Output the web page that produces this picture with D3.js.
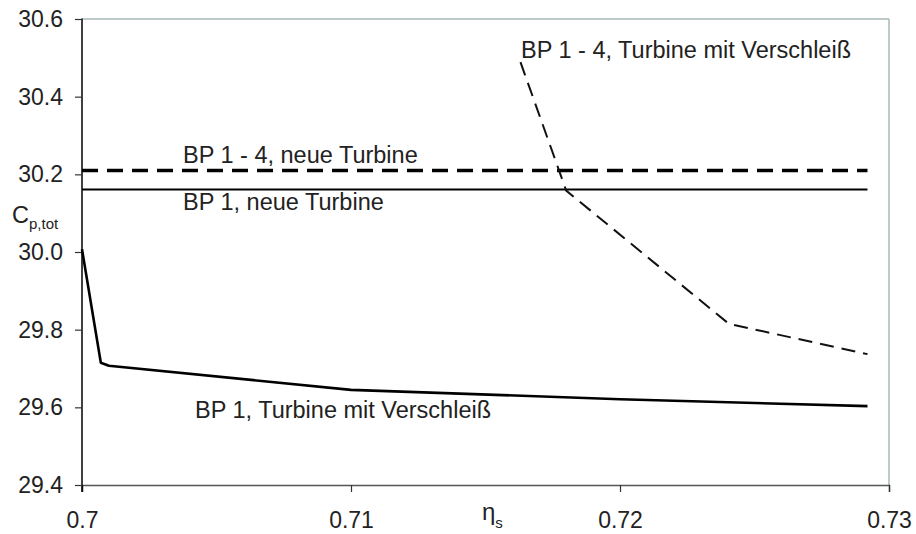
<!DOCTYPE html>
<html>
<head>
<meta charset="utf-8">
<script src="https://cdn.jsdelivr.net/npm/d3@7"></script>
<style>
  body { margin: 0; background: #fff; }
  svg text { font-family: "Liberation Sans", Arial, sans-serif; fill: #222; }
</style>
</head>
<body>
<div id="chart"></div>
<script>
// data
const xTicks = [0.7, 0.71, 0.72, 0.73];
const yTicks = [29.4, 29.6, 29.8, 30.0, 30.2, 30.4, 30.6];

// BP 1 - 4, neue Turbine (dashed, thick)
const newAllX = [0.7, 0.7292];
const newAllY = [30.21, 30.21];

// BP 1, neue Turbine
const newOneX = [0.7, 0.7292];
const newOneY = [30.161, 30.161];

// BP 1 - 4, Turbine mit Verschleiß (dashed, thin)
const wearAllX = [0.7163, 0.7180, 0.72405, 0.7292];
const wearAllY = [30.489, 30.158, 29.815, 29.737];

// BP 1, Turbine mit Verschleiß
const wearOneX = [0.7, 0.7007, 0.7010, 0.7100, 0.7200, 0.7292];
const wearOneY = [30.007, 29.715, 29.707, 29.645, 29.621, 29.603];

const W = 916, H = 534;
const margin = { top: 19, right: 27, bottom: 49, left: 82 };
const innerW = W - margin.left - margin.right;
const innerH = H - margin.top - margin.bottom;

const svg = d3.select("#chart")
    .append("svg")
    .attr("width", W)
    .attr("height", H);

const g = svg.append("g")
    .attr("transform", "translate(" + margin.left + "," + margin.top + ")");

const x = d3.scaleLinear().domain([0.7, 0.73]).range([0, innerW]);
const y = d3.scaleLinear().domain([29.4, 30.6]).range([innerH, 0]);

// frame: light top / right border
g.append("line")
    .attr("x1", 0).attr("x2", innerW)
    .attr("y1", 0).attr("y2", 0)
    .attr("stroke", "#a9b9b9").attr("stroke-width", 1.5);
g.append("line")
    .attr("x1", innerW).attr("x2", innerW)
    .attr("y1", 0).attr("y2", innerH)
    .attr("stroke", "#a9b9b9").attr("stroke-width", 1.5);

// x axis
const xAxis = g.append("g")
    .attr("transform", "translate(0," + innerH + ")")
    .call(d3.axisBottom(x).tickValues(xTicks).tickSize(7).tickPadding(20)
        .tickFormat(function(d){ return d3.format("")(+d.toFixed(2)); }));
xAxis.select(".domain").attr("stroke", "#555").attr("stroke-width", 1.5);
xAxis.selectAll(".tick line").attr("stroke", "#333").attr("stroke-width", 1.2);
xAxis.selectAll("text").style("font-size", "23px").attr("fill", "#222");

// y axis
const yAxis = g.append("g")
    .call(d3.axisLeft(y).tickValues(yTicks).tickSize(7).tickPadding(12)
        .tickFormat(d3.format(".1f")));
yAxis.select(".domain").attr("stroke", "#000").attr("stroke-width", 1.5)
    .attr("d", "M0,-0.5V" + (innerH + 7));
yAxis.selectAll(".tick line").attr("stroke", "#333").attr("stroke-width", 1.2);
yAxis.selectAll("text").style("font-size", "23px").attr("fill", "#222");

// axis titles
const yTitle = svg.append("text")
    .attr("x", 12)
    .attr("y", 223)
    .style("font-size", "23.5px");
yTitle.append("tspan").text("C");
yTitle.append("tspan").attr("dy", 6).style("font-size", "15px").text("p,tot");

const xTitle = svg.append("text")
    .attr("x", 482)
    .attr("y", 520)
    .style("font-size", "24px");
xTitle.append("tspan").text("η");
xTitle.append("tspan").attr("dy", 8).style("font-size", "15px").text("s");

// lines
const line = d3.line()
    .x(function(d){ return x(d[0]); })
    .y(function(d){ return y(d[1]); });

function pairs(xs, ys) {
    return xs.map(function(v, i){ return [v, ys[i]]; });
}

g.append("path")
    .datum(pairs(newAllX, newAllY))
    .attr("d", line)
    .attr("fill", "none")
    .attr("stroke", "#000")
    .attr("stroke-width", 3.4)
    .attr("stroke-dasharray", "16,9");

g.append("path")
    .datum(pairs(newOneX, newOneY))
    .attr("d", line)
    .attr("fill", "none")
    .attr("stroke", "#000")
    .attr("stroke-width", 2);

g.append("path")
    .datum(pairs(wearAllX, wearAllY))
    .attr("d", line)
    .attr("fill", "none")
    .attr("stroke", "#111")
    .attr("stroke-width", 2)
    .attr("stroke-dasharray", "14,8");

g.append("path")
    .datum(pairs(wearOneX, wearOneY))
    .attr("d", line)
    .attr("fill", "none")
    .attr("stroke", "#000")
    .attr("stroke-width", 2.6)
    .attr("stroke-linejoin", "round");

// series labels
const labels = [
    { text: "BP 1 - 4, Turbine mit Verschleiß", x: 521, y: 58 },
    { text: "BP 1 - 4, neue Turbine", x: 183, y: 163 },
    { text: "BP 1, neue Turbine", x: 183, y: 210 },
    { text: "BP 1, Turbine mit Verschleiß", x: 195, y: 418 }
];
svg.selectAll(".series-label")
    .data(labels)
    .join("text")
    .attr("class", "series-label")
    .attr("x", function(d){ return d.x; })
    .attr("y", function(d){ return d.y; })
    .style("font-size", "23.5px")
    .text(function(d){ return d.text; });
</script>
</body>
</html>
